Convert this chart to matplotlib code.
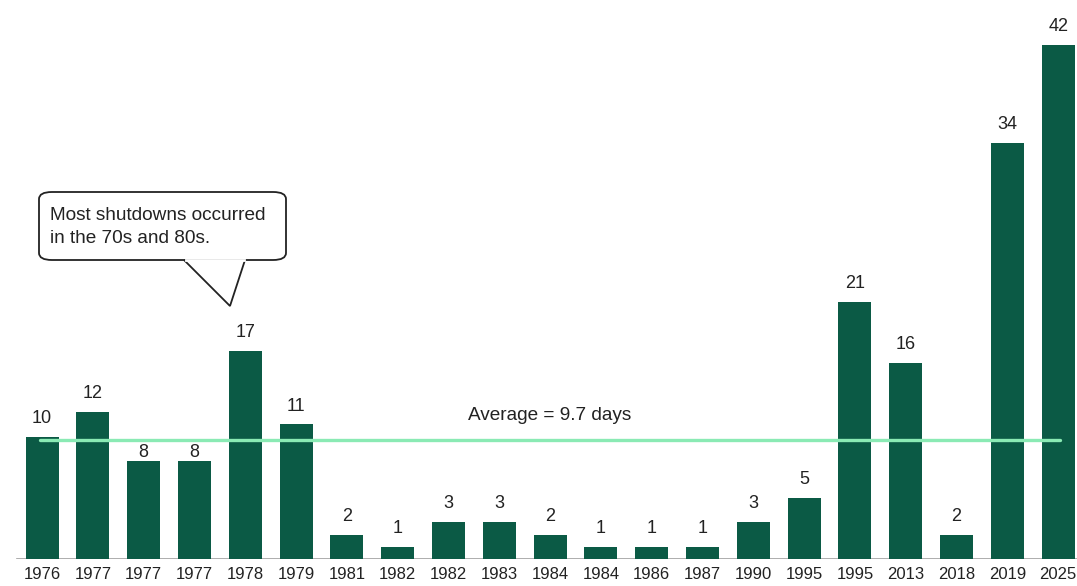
import matplotlib
matplotlib.use("Agg")
import matplotlib.pyplot as plt
from matplotlib.patches import FancyBboxPatch, Polygon
from matplotlib.lines import Line2D

years = ["1976", "1977", "1977", "1977", "1978", "1979", "1981", "1982", "1982", "1983",
         "1984", "1984", "1986", "1987", "1990", "1995", "1995", "2013", "2018", "2019", "2025"]
days = [10, 12, 8, 8, 17, 11, 2, 1, 3, 3, 2, 1, 1, 1, 3, 5, 21, 16, 2, 34, 42]
average = 9.7
avg_label = "Average = 9.7 days"
callout = "Most shutdowns occurred\nin the 70s and 80s."

plt.rcParams['font.family'] = ['Liberation Sans', 'DejaVu Sans']

W, H = 1077, 586
fig = plt.figure(figsize=(W / 100, H / 100), dpi=100)
ax = fig.add_axes([0, 27 / H, 1, 1 - 27 / H])

bar_color = "#0b5a45"
text_color = "#222222"
x = list(range(len(days)))
ax.bar(x, days, width=0.65, color=bar_color, zorder=2)
for xi, v in zip(x, days):
    # labels that would sit on the average line are tucked just under it
    off = 13.2
    if abs((v + 1.55) - average) < 1.0:
        off = 6.5
    ax.annotate(str(v), (xi, v), xytext=(0, off), textcoords="offset points",
                ha="center", va="center", fontsize=13, color=text_color, zorder=4)

ax.set_xlim(-0.827, 20.37)
ax.set_ylim(0, 45.67)
ax.set_xticks(x)
ax.set_xticklabels(years, fontsize=12, color=text_color)
ax.tick_params(axis="x", length=0, pad=6)
ax.set_yticks([])
for s in ax.spines.values():
    s.set_visible(False)

# baseline
ax.axhline(0, xmin=17 / W, xmax=1, color="#a0a0a0", lw=1.2, zorder=1)

# average line
ax.plot([x[0] - 0.04, x[-1] + 0.04], [average, average], color="#8aeab4",
        lw=2.4, solid_capstyle="round", zorder=3)
ax.text((x[0] + x[-1]) / 2, average + 1.3, avg_label, ha="center", va="bottom",
        fontsize=13.7, color=text_color)

# callout bubble (figure pixel coords)
def fx(px):
    return px / W

def fy(py):
    return 1 - py / H

bl, br, bt, bb = 39, 286, 192, 260
box = FancyBboxPatch((fx(bl), fy(bb)), fx(br) - fx(bl), fy(bt) - fy(bb),
                     boxstyle="round,pad=0,rounding_size=0.012",
                     transform=fig.transFigure, facecolor="white",
                     edgecolor=text_color, lw=1.3, zorder=5)
fig.patches.append(box)
tail = Polygon([(fx(184), fy(bb)), (fx(230), fy(306)), (fx(245), fy(bb))],
               closed=False, transform=fig.transFigure, facecolor="white",
               edgecolor=text_color, lw=1.3, zorder=6)
fig.patches.append(tail)
cover = Line2D([fx(185.5), fx(243.5)], [fy(bb), fy(bb)], transform=fig.transFigure,
               color="white", lw=2.0, zorder=7)
fig.lines.append(cover)
fig.text(fx(50), fy(227), callout, ha="left", va="center", fontsize=13.7,
         color=text_color, linespacing=1.42, zorder=8)

fig.savefig("out.png", dpi=100)
